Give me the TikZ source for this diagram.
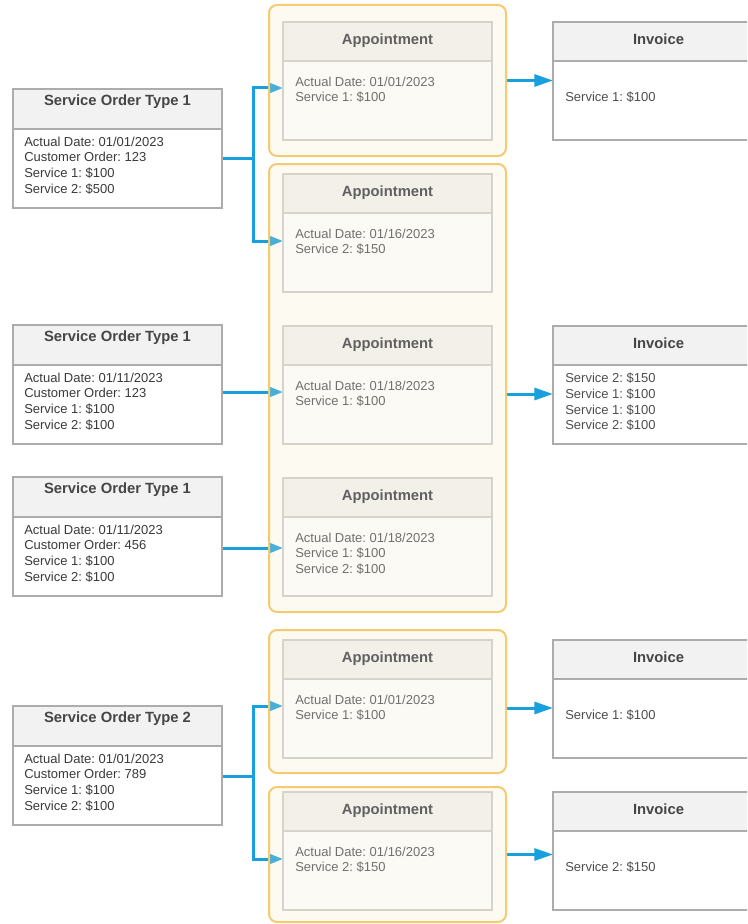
\documentclass[tikz,border=0pt]{standalone}
\usepackage{fontspec}
\setmainfont{Liberation Sans}
\usetikzlibrary{arrows.meta,calc,fit}
\frenchspacing

\definecolor{linkblue}{RGB}{24,160,222}
\definecolor{grpline}{RGB}{244,203,112}
\definecolor{grpfill}{RGB}{245,230,195}
\definecolor{soline}{RGB}{172,172,172}
\definecolor{sohead}{RGB}{242,242,242}
\definecolor{sobody}{RGB}{255,255,255}
\definecolor{apline}{RGB}{214,211,204}
\definecolor{aphead}{RGB}{243,240,233}
\definecolor{apbody}{RGB}{252,250,244}
\definecolor{txtdark}{RGB}{58,58,58}
\definecolor{txtmid}{RGB}{78,78,78}
\definecolor{txtsoft}{RGB}{112,112,112}
\definecolor{ttldark}{RGB}{70,70,70}
\definecolor{ttlsoft}{RGB}{96,96,96}

\pgfdeclarelayer{links}
\pgfsetlayers{links,main}

% record box: name, kind (so|ap), x1, y1, x2, y2, header height
\newcommand{\recbox}[7]{%
  \node[#2 box, fit={(#3,#4)(#5,#6)}] (#1) {};
  \fill[#2 head] (#3,#4) rectangle (#5,#4+#7);
  \draw[#2 edge] (#3,#4+#7) -- (#5,#4+#7) (#3,#4) rectangle (#5,#6);
}
% heading: box name, baseline offset from top, style, text
\newcommand{\boxtitle}[4]{%
  \node[#3, anchor=base] (#1-t) at ($(#1.north)+(0,#2)$) {#4};}
% body lines: box name, x offset, y offset, style, text
\newcommand{\boxlines}[5]{%
  \node[#4, anchor=north west] (#1-b) at ($(#1.north west)+(#2,#3)$) {#5};}

\begin{document}
\begin{tikzpicture}[x=0.75pt, y=-0.75pt,
  so box/.style={inner sep=0pt, outer sep=0pt, fill=sobody},
  so head/.style={fill=sohead},
  so edge/.style={draw=soline, line width=1.1pt},
  ap box/.style={inner sep=0pt, outer sep=0pt, fill=apbody},
  ap head/.style={fill=aphead},
  ap edge/.style={draw=apline, line width=1.1pt},
  group/.style={draw=grpline, line width=1.5pt, fill=grpfill, fill opacity=0.22,
    rounded corners=6pt, inner sep=0pt, outer sep=0pt},
  so title/.style={font=\fontsize{11.1pt}{13pt}\selectfont\bfseries, text=ttldark, inner sep=0pt},
  ap title/.style={font=\fontsize{11.1pt}{13pt}\selectfont\bfseries, text=ttlsoft, inner sep=0pt},
  so text/.style={font=\fontsize{9.75pt}{11.7pt}\selectfont, text=txtdark, align=left, inner sep=0pt},
  inv text/.style={font=\fontsize{9.75pt}{11.7pt}\selectfont, text=txtmid, align=left, inner sep=0pt},
  ap text/.style={font=\fontsize{9.75pt}{11.7pt}\selectfont, text=txtsoft, align=left, inner sep=0pt},
  link/.style={draw=linkblue, line width=2.25pt},
  apin/.style={-{Triangle[length=11pt,width=8pt]}},
  invin/.style={-{Triangle[length=14pt,width=9pt]}}]

\useasboundingbox (0,0) rectangle (747,924);
\clip (0,0) rectangle (747,924);

% service orders
\recbox{so1}{so}{13}{89}{222}{208}{40}
\recbox{so2}{so}{13}{325}{222}{444}{40}
\recbox{so3}{so}{13}{477}{222}{596}{40}
\recbox{so4}{so}{13}{706}{222}{825}{40}

% invoices (running past the right margin)
\recbox{inv1}{so}{553}{22}{764}{140}{39}
\recbox{inv2}{so}{553}{326}{764}{444}{39}
\recbox{inv3}{so}{553}{640}{764}{758}{39}
\recbox{inv4}{so}{553}{792}{764}{910}{39}

% appointment groups
\node[group, fit={(269,5)(506,156)}] (g1) {};
\node[group, fit={(269,164)(506,612)}] (g2) {};
\node[group, fit={(269,630)(506,773)}] (g3) {};
\node[group, fit={(269,787)(506,922)}] (g4) {};

% appointments
\recbox{ap1}{ap}{283}{22}{492}{140}{39}
\recbox{ap2}{ap}{283}{174}{492}{292}{39}
\recbox{ap3}{ap}{283}{326}{492}{444}{39}
\recbox{ap4}{ap}{283}{478}{492}{596}{39}
\recbox{ap5}{ap}{283}{640}{492}{758}{39}
\recbox{ap6}{ap}{283}{792}{492}{910}{39}

% titles
\boxtitle{so1}{16.6}{so title}{Service Order Type 1}
\boxtitle{so2}{16.6}{so title}{Service Order Type 1}
\boxtitle{so3}{16.6}{so title}{Service Order Type 1}
\boxtitle{so4}{16.6}{so title}{Service Order Type 2}
\foreach \b in {ap1,ap2,ap3,ap4,ap5,ap6}
  {\boxtitle{\b}{22.5}{ap title}{Appointment}}
\foreach \b in {inv1,inv2,inv3,inv4}
  {\boxtitle{\b}{22.5}{so title}{Invoice}}

% contents
\boxlines{so1}{11}{47.7}{so text}{Actual Date: 01/01/2023\\Customer Order: 123\\Service 1: \$100\\Service 2: \$500}
\boxlines{so2}{11}{47.7}{so text}{Actual Date: 01/11/2023\\Customer Order: 123\\Service 1: \$100\\Service 2: \$100}
\boxlines{so3}{11}{47.7}{so text}{Actual Date: 01/11/2023\\Customer Order: 456\\Service 1: \$100\\Service 2: \$100}
\boxlines{so4}{11}{47.7}{so text}{Actual Date: 01/01/2023\\Customer Order: 789\\Service 1: \$100\\Service 2: \$100}

\boxlines{ap1}{12}{54.7}{ap text}{Actual Date: 01/01/2023\\Service 1: \$100}
\boxlines{ap2}{12}{54.7}{ap text}{Actual Date: 01/16/2023\\Service 2: \$150}
\boxlines{ap3}{12}{54.7}{ap text}{Actual Date: 01/18/2023\\Service 1: \$100}
\boxlines{ap4}{12}{54.7}{ap text}{Actual Date: 01/18/2023\\Service 1: \$100\\Service 2: \$100}
\boxlines{ap5}{12}{54.7}{ap text}{Actual Date: 01/01/2023\\Service 1: \$100}
\boxlines{ap6}{12}{54.7}{ap text}{Actual Date: 01/16/2023\\Service 2: \$150}

\boxlines{inv1}{12}{69.5}{inv text}{Service 1: \$100}
\boxlines{inv2}{12}{47}{inv text}{Service 2: \$150\\Service 1: \$100\\Service 1: \$100\\Service 2: \$100}
\boxlines{inv3}{12}{69.5}{inv text}{Service 1: \$100}
\boxlines{inv4}{12}{69.5}{inv text}{Service 2: \$150}

% connectors, kept beneath the groups
\begin{pgfonlayer}{links}
  \coordinate (o1) at ($(so1.east)+(0,9.5)$);
  \coordinate (o2) at ($(so2.east)+(0,7.5)$);
  \coordinate (o3) at ($(so3.east)+(0,11.5)$);
  \coordinate (o4) at ($(so4.east)+(0,10.5)$);
  \draw[link, apin] (o1) -- ++(31,0) |- ($(ap1.west)+(0,7)$);
  \draw[link, apin] (o1) -- ++(31,0) |- ($(ap2.west)+(0,8)$);
  \draw[link, apin] (o2) -- (o2 -| ap3.west);
  \draw[link, apin] (o3) -- (o3 -| ap4.west);
  \draw[link, apin] (o4) -- ++(31,0) |- ($(ap5.west)+(0,7)$);
  \draw[link, apin] (o4) -- ++(31,0) |- ($(ap6.west)+(0,8)$);

  \coordinate (r1) at (g1.east);
  \coordinate (r2) at ($(g2.east)+(0,6)$);
  \coordinate (r3) at ($(g3.east)+(0,6.5)$);
  \coordinate (r4) at (g4.east);
  \draw[link, invin] (r1) -- (r1 -| inv1.west);
  \draw[link, invin] (r2) -- (r2 -| inv2.west);
  \draw[link, invin] (r3) -- (r3 -| inv3.west);
  \draw[link, invin] (r4) -- (r4 -| inv4.west);
\end{pgfonlayer}
\end{tikzpicture}
\end{document}
